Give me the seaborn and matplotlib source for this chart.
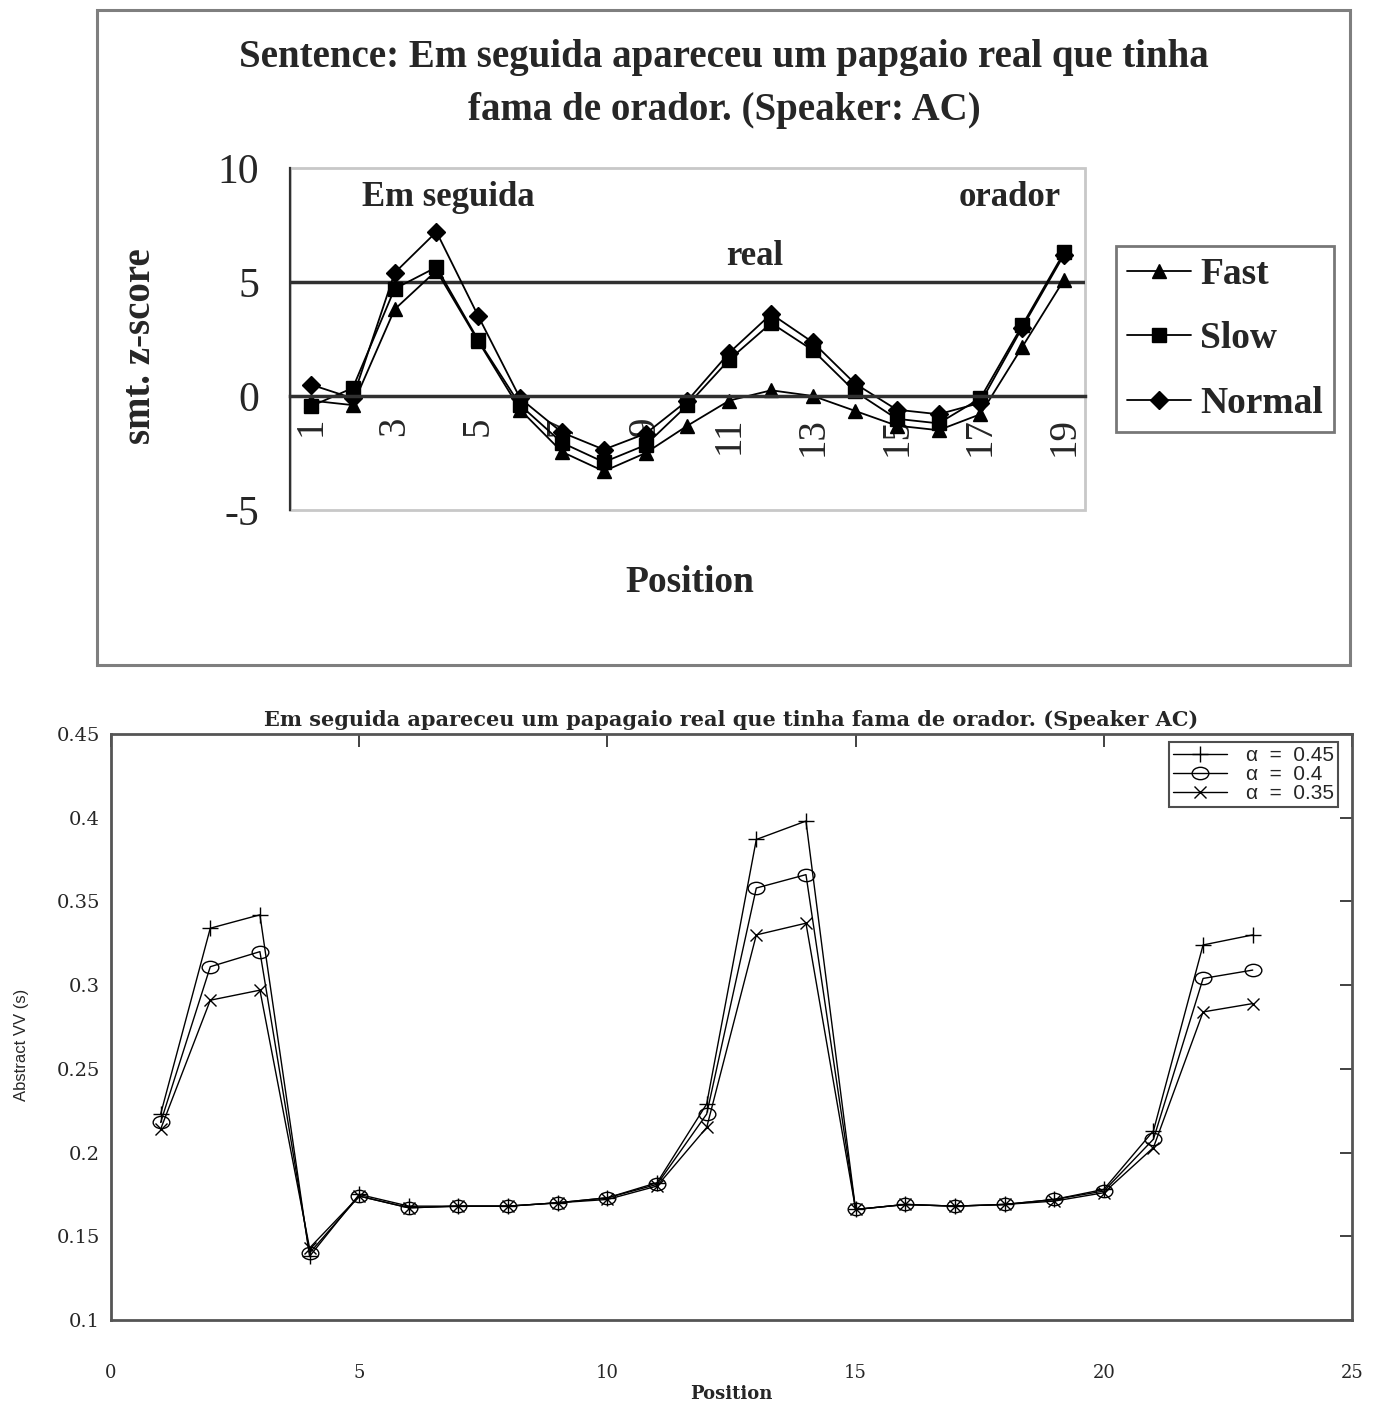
import numpy as np
import pandas as pd
import matplotlib
matplotlib.use("Agg")
import matplotlib.pyplot as plt
from matplotlib.patches import Rectangle
from matplotlib.lines import Line2D
from matplotlib.path import Path
from matplotlib.transforms import Affine2D
import seaborn as sns

# ---------------- data: smoothed z-score per syllable position ----------------
positions_top = list(range(1, 20))
fast = [-0.2, -0.4, 3.8, 5.5, 2.4, -0.6, -2.45, -3.3, -2.5, -1.3, -0.2, 0.25,
        0.0, -0.65, -1.3, -1.5, -0.8, 2.15, 5.1]
slow = [-0.45, 0.35, 4.7, 5.65, 2.45, -0.4, -2.05, -2.9, -2.15, -0.4, 1.6, 3.2,
        2.0, 0.2, -1.0, -1.2, -0.1, 3.1, 6.3]
normal = [0.5, -0.1, 5.4, 7.2, 3.5, -0.1, -1.6, -2.35, -1.65, -0.2, 1.9, 3.6,
          2.35, 0.55, -0.6, -0.8, -0.3, 3.0, 6.2]
rate_names = ["Fast", "Slow", "Normal"]
rate_markers = ["^", "s", "D"]
top_yticks = [-5, 0, 5, 10]
top_xticklabels = [str(p) for p in range(1, 20, 2)]
word_labels = ["Em seguida", "real", "orador"]

# ---------------- data: abstract VV duration per position ----------------
positions_bot = list(range(1, 24))
vv_045 = [0.223, 0.334, 0.342, 0.138, 0.175, 0.168, 0.168, 0.168, 0.170, 0.173,
          0.182, 0.229, 0.387, 0.398, 0.166, 0.169, 0.168, 0.169, 0.172, 0.178,
          0.213, 0.324, 0.330]
vv_040 = [0.218, 0.311, 0.320, 0.140, 0.174, 0.167, 0.168, 0.168, 0.170, 0.173,
          0.181, 0.223, 0.358, 0.366, 0.166, 0.169, 0.168, 0.169, 0.172, 0.177,
          0.208, 0.304, 0.309]
vv_035 = [0.214, 0.291, 0.297, 0.143, 0.174, 0.167, 0.168, 0.168, 0.170, 0.172,
          0.180, 0.215, 0.330, 0.337, 0.166, 0.169, 0.168, 0.169, 0.171, 0.176,
          0.203, 0.284, 0.289]
alpha_names = ["\u03b1  =  0.45", "\u03b1  =  0.4", "\u03b1  =  0.35"]
bot_yticks = [0.1, 0.15, 0.2, 0.25, 0.3, 0.35, 0.4, 0.45]
bot_xticks = [0, 5, 10, 15, 20, 25]

# long-form tables for seaborn
df_top = pd.DataFrame({
    "Position": positions_top * 3,
    "z": fast + slow + normal,
    "Rate": sum([[n] * len(positions_top) for n in rate_names], []),
})
df_bot = pd.DataFrame({
    "Position": positions_bot * 3,
    "VV": vv_045 + vv_040 + vv_035,
    "Alpha": sum([[n] * len(positions_bot) for n in alpha_names], []),
})

sns.set_style("white")
serif = ["Liberation Serif", "DejaVu Serif"]
slab = ["DejaVu Serif"]
sans = ["Liberation Sans", "DejaVu Sans"]

W, H = 1373, 1401
fig = plt.figure(figsize=(W / 100, H / 100), dpi=100)

# ======================= upper chart =======================
fig.patches.append(Rectangle((97 / W, 1 - 665 / H), 1253 / W, 655 / H,
                             transform=fig.transFigure, fill=False,
                             ec="#7f7f7f", lw=2.2))

ax1 = fig.add_axes([290 / W, 1 - 510 / H, 795 / W, 342 / H])
sns.lineplot(data=df_top, x="Position", y="z", style="Rate",
             markers=dict(zip(rate_names, rate_markers)), dashes=False,
             color="black", lw=1.3, ms=9.5, mec="black", mew=1,
             errorbar=None, legend=False, ax=ax1)
ax1.set_xlim(0.5, 19.5)
ax1.set_ylim(-5, 10)
ax1.axhline(5, color="#303030", lw=2.5, zorder=1)

for s in ["top", "right"]:
    ax1.spines[s].set_visible(False)
ax1.spines["left"].set_color("#303030")
ax1.spines["left"].set_linewidth(1.6)
ax1.spines["bottom"].set_position(("data", 0))
ax1.spines["bottom"].set_color("#303030")
ax1.spines["bottom"].set_linewidth(2.5)
ax1.add_patch(Rectangle((0, 0), 1, 1, transform=ax1.transAxes, fill=False,
                        ec="#c8c8c8", lw=2, clip_on=False, zorder=0))

ax1.set_yticks(top_yticks)
ax1.set_yticklabels([str(t) for t in top_yticks], fontsize=30, family=serif)
ax1.tick_params(axis="y", direction="out", length=7, width=1.5, color="#303030", pad=15)
ax1.set_xticks(range(1, 20, 2))
ax1.set_xticklabels(top_xticklabels, rotation=90, fontsize=28, family=serif,
                    va="top")
ax1.set_xticks(np.arange(1.5, 19.6, 1), minor=True)
ax1.tick_params(axis="x", which="major", length=0, pad=15)
ax1.tick_params(axis="x", which="minor", direction="out", length=8, width=1.2,
                color="#303030")
ax1.set_xlabel("Position", fontsize=27, fontweight="bold", family=serif)
ax1.xaxis.set_label_coords(0.503, -0.16)
ax1.set_ylabel("smt. z-score", fontsize=28, fontweight="bold", family=serif)
ax1.yaxis.set_label_coords(-0.165, 0.48)

word_xy = [(4.28, 8.7), (11.6, 6.1), (17.7, 8.7)]
for w, (wx, wy) in zip(word_labels, word_xy):
    ax1.text(wx, wy, w, fontsize=25, fontweight="bold", family=serif,
             ha="center", va="center")

fig.text(724 / W, 1 - 84 / H,
         "Sentence: Em seguida apareceu um papgaio real que tinha\n"
         "fama de orador. (Speaker: AC)",
         ha="center", va="center", fontsize=28, fontweight="bold",
         family=serif, linespacing=1.6)

top_handles = [Line2D([], [], color="black", lw=1.3, marker=m, ms=9.5,
                      mec="black") for m in rate_markers]
leg1 = ax1.legend(top_handles, rate_names, loc="center",
                  bbox_to_anchor=(1225 / W, 1 - 339 / H),
                  bbox_transform=fig.transFigure, frameon=True, fancybox=False,
                  prop={"family": serif, "weight": "bold", "size": 27},
                  handlelength=1.7, handletextpad=0.25, labelspacing=0.78,
                  borderpad=0.3, borderaxespad=0)
leg1.get_frame().set_edgecolor("#555555")
leg1.get_frame().set_linewidth(2)

# ======================= lower chart =======================
ax2 = fig.add_axes([111 / W, 1 - 1320 / H, 1241 / W, 586 / H])
ellipse = Path.unit_circle().transformed(Affine2D().scale(1.35, 1.0))
alpha_markers = ["+", ellipse, "x"]
alpha_ms = [12, 12, 9]
for name, m, ms in zip(alpha_names, alpha_markers, alpha_ms):
    sns.lineplot(data=df_bot[df_bot["Alpha"] == name], x="Position", y="VV",
                 marker=m, color="black", lw=1.0, ms=ms, mec="black",
                 mfc="none", mew=1.0, errorbar=None, legend=False, ax=ax2)
ax2.set_xlim(0, 25)
ax2.set_ylim(0.1, 0.45)
for s in ax2.spines.values():
    s.set_color("#555555")
    s.set_linewidth(2)

ax2.set_xticks(bot_xticks)
ax2.set_xticklabels([str(t) for t in bot_xticks], fontsize=13, family=slab)
ax2.set_yticks(bot_yticks)
ax2.set_yticklabels([f"{t:g}" for t in bot_yticks], fontsize=14, family=slab)
ax2.tick_params(axis="both", direction="in", length=9, width=1.3,
                color="#333333", top=True, right=True)
ax2.tick_params(axis="x", pad=32)
ax2.tick_params(axis="y", pad=8)
ax2.set_xlabel("Position", fontsize=13, fontweight="bold", family=slab, labelpad=2)
ax2.set_ylabel("Abstract VV (s)", fontsize=12, family=sans)
ax2.yaxis.set_label_coords(-0.066, 0.47)
ax2.set_title("Em seguida apareceu um papagaio real que tinha fama de orador. (Speaker AC)",
              fontsize=15, fontweight="bold", family=slab, pad=6)

bot_handles = [Line2D([], [], color="black", lw=1.0, marker=m, ms=ms,
                      mec="black", mfc="none", mew=1.0)
               for m, ms in zip(alpha_markers, alpha_ms)]
leg2 = ax2.legend(bot_handles, alpha_names, loc="upper right",
                  bbox_to_anchor=((1338 - 111) / 1241, 1 - 8 / 586),
                  frameon=True, fancybox=False,
                  prop={"family": sans, "size": 15},
                  handlelength=2.6, handletextpad=0.9, labelspacing=0.0,
                  borderpad=0.2, borderaxespad=0)
leg2.get_frame().set_edgecolor("#222222")
leg2.get_frame().set_linewidth(1.5)

fig.savefig("out.png", dpi=100, facecolor="white")
